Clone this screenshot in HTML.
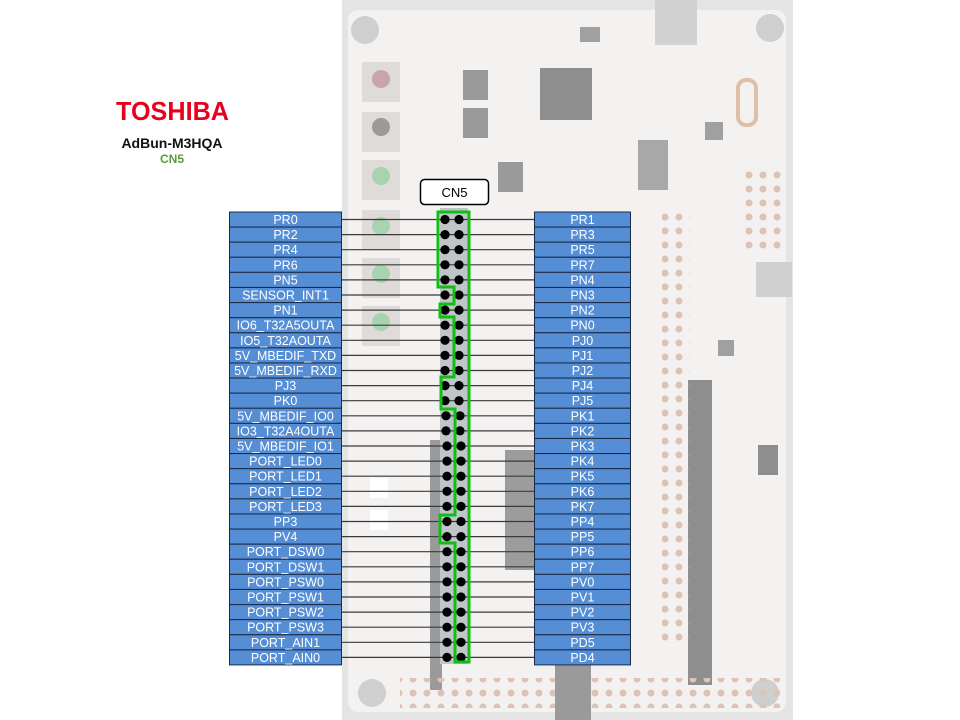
<!DOCTYPE html>
<html><head><meta charset="utf-8"><style>
html,body{margin:0;padding:0;background:#fff;}
svg{display:block;}
text{font-family:"Liberation Sans",sans-serif;}
</style></head><body>
<svg width="960" height="720" viewBox="0 0 960 720" xmlns="http://www.w3.org/2000/svg">
<defs>
<pattern id="holes" x="0" y="0" width="14" height="14" patternUnits="userSpaceOnUse">
<circle cx="7" cy="7" r="3.5" fill="#dcc3b5"/>
</pattern>
</defs>
<rect width="960" height="720" fill="#fff"/>
<rect x="342" y="0" width="451" height="720" fill="#e4e4e4"/>
<rect x="348" y="10" width="438" height="702" rx="10" fill="#f4f1f1"/>
<circle cx="365" cy="30" r="14" fill="#cfcfcf"/>
<circle cx="770" cy="28" r="14" fill="#cfcfcf"/>
<circle cx="372" cy="693" r="14" fill="#cfcfcf"/>
<circle cx="765" cy="693" r="14" fill="#cfcfcf"/>
<rect x="655" y="0" width="42" height="45" fill="#d2d2d2"/>
<g fill="#dedbd8">
<rect x="362" y="62" width="38" height="40"/><rect x="362" y="112" width="38" height="40"/>
<rect x="362" y="160" width="38" height="40"/><rect x="362" y="210" width="38" height="40"/>
<rect x="362" y="258" width="38" height="40"/><rect x="362" y="306" width="38" height="40"/>
</g>
<circle cx="381" cy="79" r="9" fill="#c9a3ad"/>
<circle cx="381" cy="127" r="9" fill="#9a9a9a"/>
<circle cx="381" cy="176" r="9" fill="#a9d2b0"/>
<circle cx="381" cy="226" r="9" fill="#a9d2b0"/>
<circle cx="381" cy="274" r="9" fill="#a9d2b0"/>
<circle cx="381" cy="322" r="9" fill="#a9d2b0"/>
<rect x="540" y="68" width="52" height="52" fill="#8e8e8e"/>
<rect x="463" y="70" width="25" height="30" fill="#9a9a9a"/>
<rect x="463" y="108" width="25" height="30" fill="#9a9a9a"/>
<rect x="498" y="162" width="25" height="30" fill="#9a9a9a"/>
<rect x="580" y="27" width="20" height="15" fill="#a0a0a0"/>
<rect x="638" y="140" width="30" height="50" fill="#a8a8a8"/>
<rect x="705" y="122" width="18" height="18" fill="#a0a0a0"/>
<rect x="718" y="340" width="16" height="16" fill="#a0a0a0"/>
<rect x="505" y="450" width="30" height="120" fill="#9c9c9c"/>
<rect x="430" y="440" width="12" height="250" fill="#9a9a9a"/>
<rect x="688" y="380" width="24" height="305" fill="#8e8e8e"/>
<rect x="758" y="445" width="20" height="30" fill="#8e8e8e"/>
<rect x="756" y="262" width="36" height="35" fill="#d0d0d0"/>
<rect x="738" y="80" width="18" height="45" rx="8" fill="none" stroke="#e0bfa8" stroke-width="4"/>
<rect x="745" y="165" width="36" height="90" fill="url(#holes)"/>
<rect x="662" y="213" width="28" height="430" fill="url(#holes)"/>
<rect x="400" y="678" width="380" height="30" fill="url(#holes)"/>
<rect x="370" y="478" width="18" height="20" fill="#fff"/>
<rect x="370" y="510" width="18" height="20" fill="#fff"/>
<rect x="555" y="660" width="36" height="60" fill="#9a9a9a"/>
<rect x="440" y="208" width="28" height="456" fill="#bfc5c8"/>
<text x="172.5" y="120" font-size="26" font-weight="bold" fill="#e8001c" text-anchor="middle" textLength="113" lengthAdjust="spacingAndGlyphs">TOSHIBA</text>
<text x="172" y="148" font-size="14" font-weight="bold" fill="#111" text-anchor="middle">AdBun-M3HQA</text>
<text x="172" y="163" font-size="12" font-weight="bold" fill="#5c9a3c" text-anchor="middle">CN5</text>
<rect x="420.5" y="179.5" width="68" height="25" rx="4" fill="#fff" stroke="#000" stroke-width="1.5"/>
<text x="454.5" y="197" font-size="13" fill="#000" text-anchor="middle">CN5</text>
<g stroke="#3a3a3a" stroke-width="1.2">
<line x1="342" x2="534" y1="219.5" y2="219.5"/><line x1="342" x2="534" y1="234.6" y2="234.6"/>
<line x1="342" x2="534" y1="249.7" y2="249.7"/><line x1="342" x2="534" y1="264.8" y2="264.8"/>
<line x1="342" x2="534" y1="279.9" y2="279.9"/><line x1="342" x2="534" y1="295" y2="295"/>
<line x1="342" x2="534" y1="310.1" y2="310.1"/><line x1="342" x2="534" y1="325.2" y2="325.2"/>
<line x1="342" x2="534" y1="340.3" y2="340.3"/><line x1="342" x2="534" y1="355.4" y2="355.4"/>
<line x1="342" x2="534" y1="370.5" y2="370.5"/><line x1="342" x2="534" y1="385.6" y2="385.6"/>
<line x1="342" x2="534" y1="400.7" y2="400.7"/><line x1="342" x2="534" y1="415.8" y2="415.8"/>
<line x1="342" x2="534" y1="430.9" y2="430.9"/><line x1="342" x2="534" y1="446" y2="446"/>
<line x1="342" x2="534" y1="461.1" y2="461.1"/><line x1="342" x2="534" y1="476.2" y2="476.2"/>
<line x1="342" x2="534" y1="491.3" y2="491.3"/><line x1="342" x2="534" y1="506.4" y2="506.4"/>
<line x1="342" x2="534" y1="521.5" y2="521.5"/><line x1="342" x2="534" y1="536.6" y2="536.6"/>
<line x1="342" x2="534" y1="551.7" y2="551.7"/><line x1="342" x2="534" y1="566.8" y2="566.8"/>
<line x1="342" x2="534" y1="581.9" y2="581.9"/><line x1="342" x2="534" y1="597" y2="597"/>
<line x1="342" x2="534" y1="612.1" y2="612.1"/><line x1="342" x2="534" y1="627.2" y2="627.2"/>
<line x1="342" x2="534" y1="642.3" y2="642.3"/><line x1="342" x2="534" y1="657.4" y2="657.4"/>
</g>
<g fill="#000">
<circle cx="445" cy="219.5" r="4.6"/><circle cx="459" cy="219.5" r="4.6"/>
<circle cx="445" cy="234.6" r="4.6"/><circle cx="459" cy="234.6" r="4.6"/>
<circle cx="445" cy="249.7" r="4.6"/><circle cx="459" cy="249.7" r="4.6"/>
<circle cx="445" cy="264.8" r="4.6"/><circle cx="459" cy="264.8" r="4.6"/>
<circle cx="445" cy="279.9" r="4.6"/><circle cx="459" cy="279.9" r="4.6"/>
<circle cx="445" cy="295" r="4.6"/><circle cx="459" cy="295" r="4.6"/>
<circle cx="445" cy="310.1" r="4.6"/><circle cx="459" cy="310.1" r="4.6"/>
<circle cx="445" cy="325.2" r="4.6"/><circle cx="459" cy="325.2" r="4.6"/>
<circle cx="445" cy="340.3" r="4.6"/><circle cx="459" cy="340.3" r="4.6"/>
<circle cx="445" cy="355.4" r="4.6"/><circle cx="459" cy="355.4" r="4.6"/>
<circle cx="445" cy="370.5" r="4.6"/><circle cx="459" cy="370.5" r="4.6"/>
<circle cx="445" cy="385.6" r="4.6"/><circle cx="459" cy="385.6" r="4.6"/>
<circle cx="445" cy="400.7" r="4.6"/><circle cx="459" cy="400.7" r="4.6"/>
<circle cx="446" cy="415.8" r="4.6"/><circle cx="460" cy="415.8" r="4.6"/>
<circle cx="446" cy="430.9" r="4.6"/><circle cx="460" cy="430.9" r="4.6"/>
<circle cx="447" cy="446" r="4.6"/><circle cx="461" cy="446" r="4.6"/>
<circle cx="447" cy="461.1" r="4.6"/><circle cx="461" cy="461.1" r="4.6"/>
<circle cx="447" cy="476.2" r="4.6"/><circle cx="461" cy="476.2" r="4.6"/>
<circle cx="447" cy="491.3" r="4.6"/><circle cx="461" cy="491.3" r="4.6"/>
<circle cx="447" cy="506.4" r="4.6"/><circle cx="461" cy="506.4" r="4.6"/>
<circle cx="447" cy="521.5" r="4.6"/><circle cx="461" cy="521.5" r="4.6"/>
<circle cx="447" cy="536.6" r="4.6"/><circle cx="461" cy="536.6" r="4.6"/>
<circle cx="447" cy="551.7" r="4.6"/><circle cx="461" cy="551.7" r="4.6"/>
<circle cx="447" cy="566.8" r="4.6"/><circle cx="461" cy="566.8" r="4.6"/>
<circle cx="447" cy="581.9" r="4.6"/><circle cx="461" cy="581.9" r="4.6"/>
<circle cx="447" cy="597" r="4.6"/><circle cx="461" cy="597" r="4.6"/>
<circle cx="447" cy="612.1" r="4.6"/><circle cx="461" cy="612.1" r="4.6"/>
<circle cx="447" cy="627.2" r="4.6"/><circle cx="461" cy="627.2" r="4.6"/>
<circle cx="447" cy="642.3" r="4.6"/><circle cx="461" cy="642.3" r="4.6"/>
<circle cx="447" cy="657.4" r="4.6"/><circle cx="461" cy="657.4" r="4.6"/>
</g>
<polygon points="438,212 469,212 469,662 455,662 455,543 440,543 440,515 455,515 455,409 441,409 441,377 454,377 454,317 440,317 440,304 454,304 454,287 438,287" fill="none" stroke="#10c010" stroke-width="3" stroke-linejoin="miter"/>
<g fill="#558ed5" stroke="#1c2c48" stroke-width="1">
<rect x="229.5" y="212" width="112" height="15"/><rect x="229.5" y="227.1" width="112" height="15"/>
<rect x="229.5" y="242.2" width="112" height="15"/><rect x="229.5" y="257.3" width="112" height="15"/>
<rect x="229.5" y="272.4" width="112" height="15"/><rect x="229.5" y="287.5" width="112" height="15"/>
<rect x="229.5" y="302.6" width="112" height="15"/><rect x="229.5" y="317.7" width="112" height="15"/>
<rect x="229.5" y="332.8" width="112" height="15"/><rect x="229.5" y="347.9" width="112" height="15"/>
<rect x="229.5" y="363" width="112" height="15"/><rect x="229.5" y="378.1" width="112" height="15"/>
<rect x="229.5" y="393.2" width="112" height="15"/><rect x="229.5" y="408.3" width="112" height="15"/>
<rect x="229.5" y="423.4" width="112" height="15"/><rect x="229.5" y="438.5" width="112" height="15"/>
<rect x="229.5" y="453.6" width="112" height="15"/><rect x="229.5" y="468.7" width="112" height="15"/>
<rect x="229.5" y="483.8" width="112" height="15"/><rect x="229.5" y="498.9" width="112" height="15"/>
<rect x="229.5" y="514" width="112" height="15"/><rect x="229.5" y="529.1" width="112" height="15"/>
<rect x="229.5" y="544.2" width="112" height="15"/><rect x="229.5" y="559.3" width="112" height="15"/>
<rect x="229.5" y="574.4" width="112" height="15"/><rect x="229.5" y="589.5" width="112" height="15"/>
<rect x="229.5" y="604.6" width="112" height="15"/><rect x="229.5" y="619.7" width="112" height="15"/>
<rect x="229.5" y="634.8" width="112" height="15"/><rect x="229.5" y="649.9" width="112" height="15"/>
<rect x="534.5" y="212" width="96" height="15"/><rect x="534.5" y="227.1" width="96" height="15"/>
<rect x="534.5" y="242.2" width="96" height="15"/><rect x="534.5" y="257.3" width="96" height="15"/>
<rect x="534.5" y="272.4" width="96" height="15"/><rect x="534.5" y="287.5" width="96" height="15"/>
<rect x="534.5" y="302.6" width="96" height="15"/><rect x="534.5" y="317.7" width="96" height="15"/>
<rect x="534.5" y="332.8" width="96" height="15"/><rect x="534.5" y="347.9" width="96" height="15"/>
<rect x="534.5" y="363" width="96" height="15"/><rect x="534.5" y="378.1" width="96" height="15"/>
<rect x="534.5" y="393.2" width="96" height="15"/><rect x="534.5" y="408.3" width="96" height="15"/>
<rect x="534.5" y="423.4" width="96" height="15"/><rect x="534.5" y="438.5" width="96" height="15"/>
<rect x="534.5" y="453.6" width="96" height="15"/><rect x="534.5" y="468.7" width="96" height="15"/>
<rect x="534.5" y="483.8" width="96" height="15"/><rect x="534.5" y="498.9" width="96" height="15"/>
<rect x="534.5" y="514" width="96" height="15"/><rect x="534.5" y="529.1" width="96" height="15"/>
<rect x="534.5" y="544.2" width="96" height="15"/><rect x="534.5" y="559.3" width="96" height="15"/>
<rect x="534.5" y="574.4" width="96" height="15"/><rect x="534.5" y="589.5" width="96" height="15"/>
<rect x="534.5" y="604.6" width="96" height="15"/><rect x="534.5" y="619.7" width="96" height="15"/>
<rect x="534.5" y="634.8" width="96" height="15"/><rect x="534.5" y="649.9" width="96" height="15"/>
</g>
<g fill="#fff" font-size="12.5" text-anchor="middle">
<text x="285.5" y="224">PR0</text><text x="285.5" y="239.1">PR2</text>
<text x="285.5" y="254.2">PR4</text><text x="285.5" y="269.3">PR6</text>
<text x="285.5" y="284.4">PN5</text><text x="285.5" y="299.5">SENSOR_INT1</text>
<text x="285.5" y="314.6">PN1</text><text x="285.5" y="329.7">IO6_T32A5OUTA</text>
<text x="285.5" y="344.8">IO5_T32AOUTA</text><text x="285.5" y="359.9">5V_MBEDIF_TXD</text>
<text x="285.5" y="375">5V_MBEDIF_RXD</text><text x="285.5" y="390.1">PJ3</text>
<text x="285.5" y="405.2">PK0</text><text x="285.5" y="420.3">5V_MBEDIF_IO0</text>
<text x="285.5" y="435.4">IO3_T32A4OUTA</text><text x="285.5" y="450.5">5V_MBEDIF_IO1</text>
<text x="285.5" y="465.6">PORT_LED0</text><text x="285.5" y="480.7">PORT_LED1</text>
<text x="285.5" y="495.8">PORT_LED2</text><text x="285.5" y="510.9">PORT_LED3</text>
<text x="285.5" y="526">PP3</text><text x="285.5" y="541.1">PV4</text>
<text x="285.5" y="556.2">PORT_DSW0</text><text x="285.5" y="571.3">PORT_DSW1</text>
<text x="285.5" y="586.4">PORT_PSW0</text><text x="285.5" y="601.5">PORT_PSW1</text>
<text x="285.5" y="616.6">PORT_PSW2</text><text x="285.5" y="631.7">PORT_PSW3</text>
<text x="285.5" y="646.8">PORT_AIN1</text><text x="285.5" y="661.9">PORT_AIN0</text>
<text x="582.5" y="224">PR1</text><text x="582.5" y="239.1">PR3</text>
<text x="582.5" y="254.2">PR5</text><text x="582.5" y="269.3">PR7</text>
<text x="582.5" y="284.4">PN4</text><text x="582.5" y="299.5">PN3</text>
<text x="582.5" y="314.6">PN2</text><text x="582.5" y="329.7">PN0</text>
<text x="582.5" y="344.8">PJ0</text><text x="582.5" y="359.9">PJ1</text>
<text x="582.5" y="375">PJ2</text><text x="582.5" y="390.1">PJ4</text>
<text x="582.5" y="405.2">PJ5</text><text x="582.5" y="420.3">PK1</text>
<text x="582.5" y="435.4">PK2</text><text x="582.5" y="450.5">PK3</text>
<text x="582.5" y="465.6">PK4</text><text x="582.5" y="480.7">PK5</text>
<text x="582.5" y="495.8">PK6</text><text x="582.5" y="510.9">PK7</text>
<text x="582.5" y="526">PP4</text><text x="582.5" y="541.1">PP5</text>
<text x="582.5" y="556.2">PP6</text><text x="582.5" y="571.3">PP7</text>
<text x="582.5" y="586.4">PV0</text><text x="582.5" y="601.5">PV1</text>
<text x="582.5" y="616.6">PV2</text><text x="582.5" y="631.7">PV3</text>
<text x="582.5" y="646.8">PD5</text><text x="582.5" y="661.9">PD4</text>
</g>
</svg>
</body></html>
